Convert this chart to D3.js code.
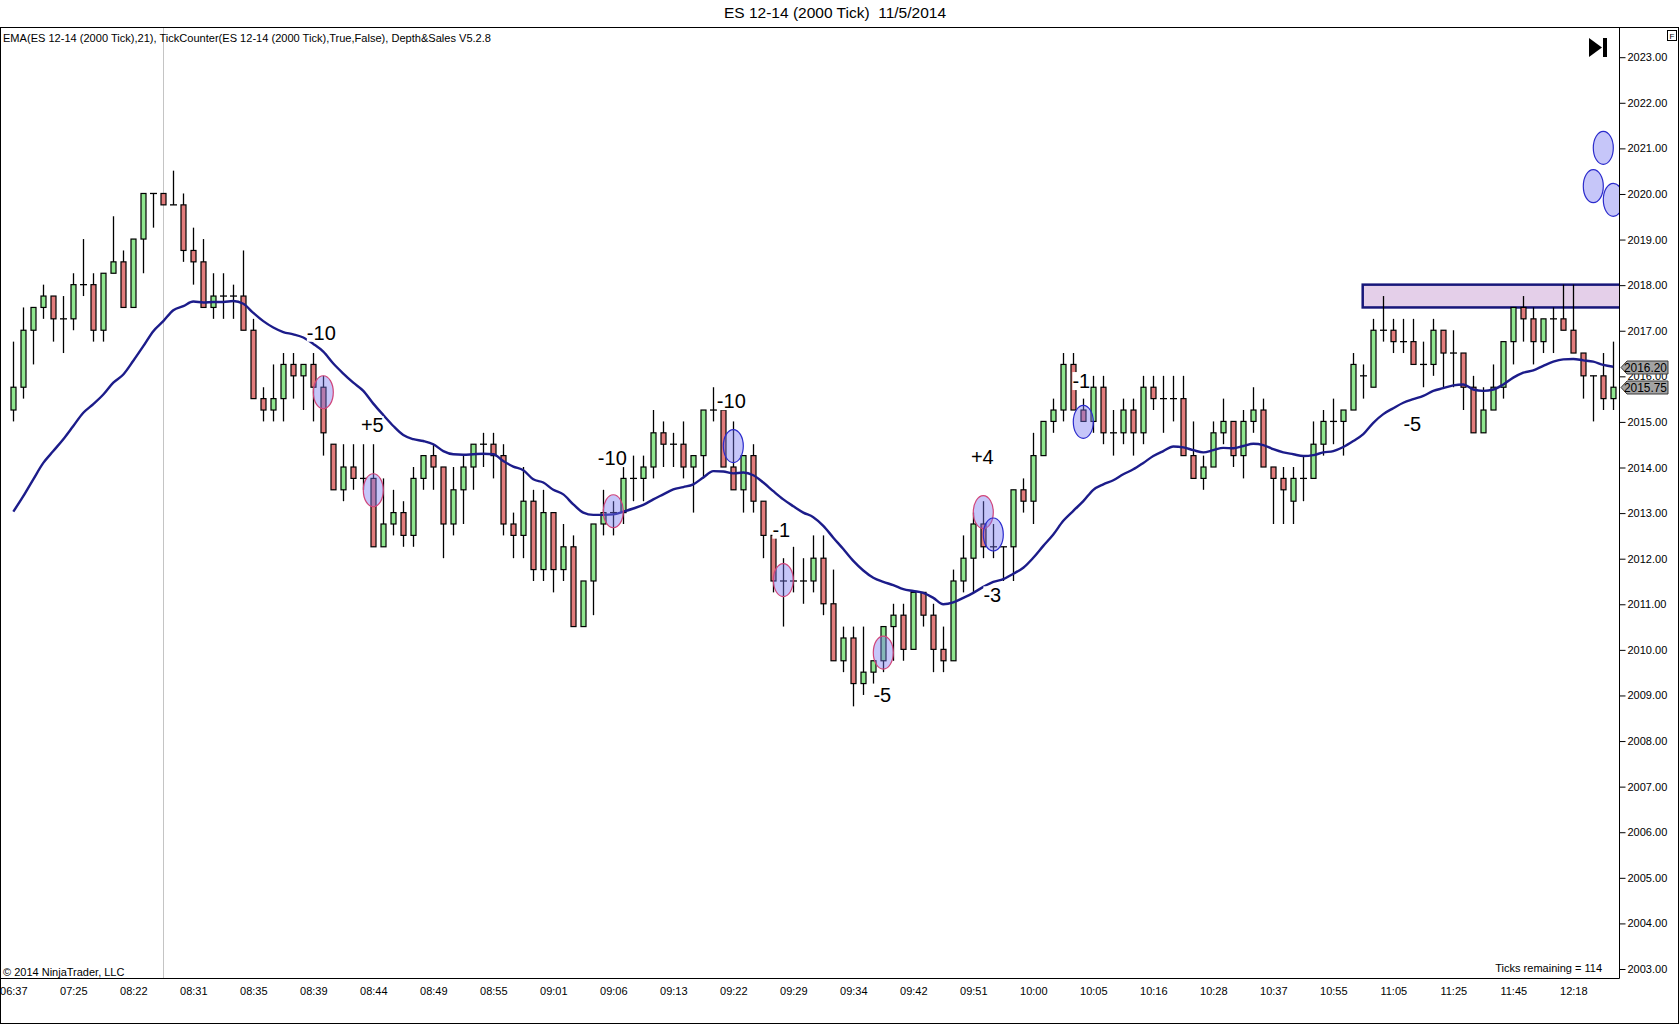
<!DOCTYPE html>
<meta charset="utf-8">

<!-- Load d3.js -->
<script src="https://d3js.org/d3.v7.min.js"></script>

<style>
  body { margin: 0; background: #fff; }
  text { font-family: "Liberation Sans", Arial, sans-serif; white-space: pre; }
</style>

<body>
  <!-- Create a div where the chart will take place -->
  <div id="chart"></div>

  <script>
    // ---- data (ES 12-14, 2000 tick bars) ----
    const opens = [
      2015.25, 2015.75, 2017, 2017.5, 2017.75, 2017.25, 2017.25, 2018, 2018, 2017,
      2018.25, 2018.5, 2017.5, 2019, 2020, 2020, 2019.75, 2019.75, 2018.75, 2018.5,
      2017.5, 2017.75, 2017.75, 2017.75, 2017, 2015.5, 2015.25, 2015.5, 2016.25, 2016,
      2016.25, 2015.75, 2014.5, 2013.5, 2014, 2013.75, 2013.75, 2012.25, 2012.75, 2013,
      2012.5, 2013.75, 2014.25, 2014, 2012.75, 2013.5, 2014, 2014.5, 2014.5, 2014.25,
      2012.75, 2012.5, 2013.25, 2011.75, 2013, 2011.75, 2012.25, 2010.5, 2011.5, 2012.75,
      2013, 2013, 2013.75, 2013.75, 2014, 2014.75, 2014.5, 2014.5, 2014, 2014.25,
      2015.25, 2015.25, 2014, 2013.5, 2014.25, 2013.25, 2012.5, 2011.5, 2011.5, 2011.5,
      2011.5, 2012, 2011, 2009.75, 2010.25, 2009.25, 2009.5, 2009.75, 2010.5, 2010.75,
      2010, 2011.25, 2010.75, 2010, 2009.75, 2011.5, 2012, 2012.75, 2012.25, 2012.25,
      2012.25, 2013.5, 2013.25, 2014.25, 2015, 2015.25, 2016.25, 2015.25, 2015, 2015.75,
      2014.75, 2014.75, 2015.25, 2014.75, 2015.75, 2015.5, 2015.5, 2015.5, 2014.25, 2013.75,
      2014, 2014.75, 2015, 2014.25, 2015, 2015.25, 2014, 2013.75, 2013.25, 2013.75,
      2013.75, 2014.5, 2015, 2015, 2015.25, 2016, 2015.75, 2017, 2017, 2016.75,
      2016.75, 2016.25, 2016.25, 2017, 2016.5, 2016.5, 2015.75, 2014.75, 2015.25, 2015.75,
      2016.75, 2017.5, 2017.25, 2016.75, 2017.25, 2017.25, 2017, 2016.5, 2016, 2016, 2015.5
    ];
    const highs = [
      2016.75, 2017.5, 2017.5, 2018, 2017.75, 2017.75, 2018.25, 2019, 2018.25, 2018.25,
      2019.5, 2018.75, 2019, 2020, 2020, 2020, 2020.5, 2020, 2019.25, 2019,
      2018.25, 2018.25, 2018, 2018.75, 2017.25, 2015.75, 2016.25, 2016.5, 2016.5, 2016.25,
      2016.5, 2016, 2014.5, 2014.5, 2014.5, 2014.5, 2014.5, 2013.75, 2013.5, 2013.25,
      2014, 2014.25, 2014.5, 2014, 2014, 2014.25, 2014.5, 2014.75, 2014.75, 2014.5,
      2013, 2014, 2013.5, 2013.5, 2013, 2012.75, 2012.5, 2011.5, 2012.75, 2013.5,
      2013.25, 2014, 2014.25, 2014.25, 2015.25, 2015, 2014.75, 2015, 2014.25, 2015.25,
      2015.75, 2015.25, 2015, 2014.25, 2014.5, 2013.25, 2012.5, 2012, 2012.25, 2012,
      2012.5, 2012.5, 2011.75, 2010.5, 2010.5, 2010.5, 2009.75, 2010.5, 2011, 2011,
      2011.25, 2011.25, 2011, 2010.5, 2011.75, 2012.5, 2013, 2013.25, 2012.75, 2012.25,
      2013.5, 2013.75, 2014.75, 2015, 2015.5, 2016.5, 2016.5, 2015.5, 2016, 2016,
      2015.25, 2015.5, 2015.5, 2016, 2016, 2016, 2016, 2016, 2015, 2014.25,
      2015, 2015.5, 2015, 2015.25, 2015.75, 2015.5, 2014, 2014, 2014, 2014.25,
      2015, 2015.25, 2015.5, 2015.25, 2016.5, 2016.25, 2017.25, 2017.75, 2017.25, 2017.25,
      2017.25, 2016.75, 2017.25, 2017, 2017, 2016.5, 2016, 2015.75, 2016.25, 2016.75,
      2017.5, 2017.75, 2017.5, 2017.25, 2017.5, 2018, 2018, 2016.5, 2016, 2016.5, 2016.75
    ];
    const lows = [
      2015, 2015.5, 2016.25, 2017.25, 2016.75, 2016.5, 2017, 2017.75, 2016.75, 2016.75,
      2018.25, 2017.5, 2017.5, 2018.25, 2019.25, 2019.75, 2019.75, 2018.5, 2018, 2017.5,
      2017.25, 2017.25, 2017.25, 2017, 2015.5, 2015, 2015, 2015, 2015.5, 2015.25,
      2015, 2014.25, 2013.5, 2013.25, 2013.5, 2013.5, 2012.25, 2012.25, 2012.5, 2012.25,
      2012.25, 2013.5, 2013.5, 2012, 2012.5, 2012.75, 2013.5, 2014, 2013.75, 2012.5,
      2012, 2012, 2011.5, 2011.5, 2011.25, 2011.5, 2010.5, 2010.5, 2010.75, 2012.5,
      2012.5, 2012.75, 2013.25, 2013.25, 2013.75, 2014, 2014, 2013.75, 2013, 2013.75,
      2015, 2014, 2013.5, 2013, 2013, 2012, 2011.25, 2010.5, 2011.25, 2011,
      2011.25, 2010.75, 2009.75, 2009.5, 2008.75, 2009, 2009.25, 2009.5, 2009.75, 2009.75,
      2010, 2010.5, 2009.5, 2009.5, 2009.75, 2011.25, 2011.25, 2012, 2012, 2011.5,
      2011.5, 2013, 2012.75, 2014.25, 2014.75, 2015, 2015.25, 2015, 2014.75, 2014.5,
      2014.25, 2014.5, 2014.25, 2014.5, 2015.25, 2014.75, 2015, 2014.25, 2013.75, 2013.5,
      2014, 2014.5, 2014, 2013.75, 2014.75, 2014, 2012.75, 2012.75, 2012.75, 2013.25,
      2013.75, 2014.25, 2014.5, 2014.25, 2015.25, 2015.5, 2015.75, 2016.75, 2016.5, 2016.5,
      2016.25, 2015.75, 2016, 2015.75, 2015.75, 2015.25, 2014.75, 2014.75, 2015.25, 2015.5,
      2016.25, 2016.75, 2016.25, 2016.5, 2016.5, 2017, 2016.5, 2015.5, 2015, 2015.25, 2015.25
    ];
    const closes = [
      2015.75, 2017, 2017.5, 2017.75, 2017.25, 2017.25, 2018, 2018, 2017, 2018.25,
      2018.5, 2017.5, 2019, 2020, 2020, 2019.75, 2019.75, 2018.75, 2018.5, 2017.5,
      2017.75, 2017.75, 2017.75, 2017, 2015.5, 2015.25, 2015.5, 2016.25, 2016, 2016.25,
      2015.75, 2014.75, 2013.5, 2014, 2013.75, 2013.75, 2012.25, 2012.75, 2013, 2012.5,
      2013.75, 2014.25, 2014, 2012.75, 2013.5, 2014, 2014.5, 2014.5, 2014.25, 2012.75,
      2012.5, 2013.25, 2011.75, 2013, 2011.75, 2012.25, 2010.5, 2011.5, 2012.75, 2013,
      2013, 2013.75, 2013.75, 2014, 2014.75, 2014.5, 2014.5, 2014, 2014.25, 2015.25,
      2015.25, 2014, 2013.5, 2014.25, 2013.25, 2012.5, 2011.5, 2011.5, 2011.5, 2011.5,
      2012, 2011, 2009.75, 2010.25, 2009.25, 2009.5, 2009.75, 2010.5, 2010.75, 2010,
      2011.25, 2010.75, 2010, 2009.75, 2011.5, 2012, 2012.75, 2012.25, 2012.25, 2012.25,
      2013.5, 2013.25, 2014.25, 2015, 2015.25, 2016.25, 2015.25, 2015, 2015.75, 2014.75,
      2014.75, 2015.25, 2014.75, 2015.75, 2015.5, 2015.5, 2015.5, 2014.25, 2013.75, 2014,
      2014.75, 2015, 2014.25, 2015, 2015.25, 2014, 2013.75, 2013.5, 2013.75, 2013.75,
      2014.5, 2015, 2015, 2015.25, 2016.25, 2016, 2017, 2017, 2016.75, 2016.75,
      2016.25, 2016.25, 2017, 2016.5, 2016.5, 2015.75, 2014.75, 2015.25, 2015.75, 2016.75,
      2017.5, 2017.25, 2016.75, 2017.25, 2017.25, 2017, 2016.5, 2016, 2016, 2015.5, 2015.75
    ];
    // EMA(21) as drawn
    const ema21 = [
      2013.02, 2013.36, 2013.73, 2014.09, 2014.35, 2014.61, 2014.90, 2015.19, 2015.38, 2015.59,
      2015.85, 2016.03, 2016.33, 2016.65, 2016.98, 2017.20, 2017.44, 2017.53, 2017.63, 2017.61,
      2017.62, 2017.62, 2017.64, 2017.58, 2017.38, 2017.20, 2017.06, 2016.96, 2016.91, 2016.84,
      2016.70, 2016.53, 2016.27, 2016.05, 2015.85, 2015.67, 2015.39, 2015.14, 2014.90, 2014.70,
      2014.61, 2014.57, 2014.50, 2014.35, 2014.28, 2014.27, 2014.28, 2014.29, 2014.28, 2014.13,
      2014.01, 2013.93, 2013.73, 2013.66, 2013.50, 2013.40, 2013.18, 2013.00, 2012.95, 2012.95,
      2012.96, 2013.02, 2013.09, 2013.17, 2013.29, 2013.40, 2013.51, 2013.56, 2013.62, 2013.77,
      2013.91, 2013.90, 2013.86, 2013.88, 2013.82, 2013.66, 2013.47, 2013.29, 2013.14, 2013.00,
      2012.90, 2012.71, 2012.45, 2012.20, 2011.94, 2011.73, 2011.57, 2011.48, 2011.41, 2011.32,
      2011.28, 2011.24, 2011.13, 2010.99, 2011.03, 2011.13, 2011.24, 2011.37, 2011.48, 2011.54,
      2011.66, 2011.79, 2012.01, 2012.27, 2012.52, 2012.82, 2013.04, 2013.25, 2013.50, 2013.62,
      2013.71, 2013.84, 2013.95, 2014.09, 2014.24, 2014.35, 2014.45, 2014.43, 2014.37, 2014.32,
      2014.37, 2014.42, 2014.41, 2014.46, 2014.51, 2014.48, 2014.39, 2014.32, 2014.28, 2014.24,
      2014.26, 2014.32, 2014.35, 2014.44, 2014.57, 2014.72, 2014.97, 2015.16, 2015.29, 2015.41,
      2015.49, 2015.56, 2015.67, 2015.73, 2015.79, 2015.81, 2015.70, 2015.67, 2015.70, 2015.81,
      2015.96, 2016.07, 2016.12, 2016.22, 2016.31, 2016.36, 2016.37, 2016.34, 2016.31, 2016.24, 2016.20
    ];

    // one time label every 6 bars
    const timeLabels = ["06:37", "07:25", "08:22", "08:31", "08:35", "08:39", "08:44", "08:49", "08:55",
      "09:01", "09:06", "09:13", "09:22", "09:29", "09:34", "09:42", "09:51", "10:00", "10:05",
      "10:16", "10:28", "10:37", "10:55", "11:05", "11:25", "11:45", "12:18"];
    const priceTicks = d3.range(2003, 2024);

    // Depth&Sales ellipses: bar, price, outline kind
    const markBars = [31, 36, 60, 72, 77, 87, 97, 98, 107, 158, 159, 160];
    const markPrices = [2015.64, 2013.49, 2013.03, 2014.46, 2011.52, 2009.93, 2013.01, 2012.52, 2014.99, 2020.16, 2021.0, 2019.86];
    const markKinds = ["pink", "pink", "pink", "blue", "pink", "pink", "pink", "blue", "blue", "blue", "blue", "blue"];

    // TickCounter notes
    const noteTexts = ["-10", "+5", "-10", "-10", "-1", "-5", "+4", "-3", "-1", "-5"];
    const noteBars = [30.8, 35.9, 59.9, 71.8, 76.8, 86.9, 96.9, 97.9, 106.8, 139.9];
    const notePrices = [2016.95, 2014.92, 2014.20, 2015.45, 2012.63, 2009.01, 2014.22, 2011.19, 2015.89, 2014.94];

    // drawn zone and price markers
    const zoneStartBar = 134.94;
    const zonePrices = [2017.5, 2018];
    const markerValues = [2016.20, 2015.75];
    const sessionBar = 15;

    // ---- layout ----
    const W = 1680, H = 1025;
    const plot = { left: 1, top: 27, right: 1619, bottom: 978 };

    const svg = d3.select("#chart")
      .append("svg")
      .attr("width", W)
      .attr("height", H)
      .style("display", "block");

    svg.append("rect").attr("width", W).attr("height", H).attr("fill", "#fff");

    const x = d3.scaleLinear().domain([0, opens.length - 1]).range([13.3, 1613.3]);
    const y = d3.scaleLinear().domain([2003, 2023]).range([968.5, 56.7]);

    svg.append("clipPath").attr("id", "plotclip")
      .append("rect")
      .attr("x", plot.left).attr("y", plot.top)
      .attr("width", plot.right - plot.left).attr("height", plot.bottom - plot.top);

    const g = svg.append("g").attr("clip-path", "url(#plotclip)");

    // session separator
    g.append("line")
      .attr("x1", Math.round(x(sessionBar)) + 0.5).attr("x2", Math.round(x(sessionBar)) + 0.5)
      .attr("y1", plot.top).attr("y2", plot.bottom)
      .attr("stroke", "#c4c4c4");

    // zone rectangle
    g.append("rect")
      .attr("x", x(zoneStartBar))
      .attr("y", y(zonePrices[1]))
      .attr("width", plot.right + 5 - x(zoneStartBar))
      .attr("height", y(zonePrices[0]) - y(zonePrices[1]))
      .attr("fill", "#e4cfe9")
      .attr("stroke", "#17177a")
      .attr("stroke-width", 2.5);

    // candles
    const bars = opens.map((o, i) => ({ i: i, o: o, h: highs[i], l: lows[i], c: closes[i] }));
    const cx = (i) => Math.round(x(i)) + 0.5;

    g.selectAll(".wick")
      .data(bars)
      .join("line")
      .attr("class", "wick")
      .attr("x1", d => cx(d.i)).attr("x2", d => cx(d.i))
      .attr("y1", d => y(d.h)).attr("y2", d => y(d.l))
      .attr("stroke", "#000")
      .attr("stroke-width", 1.3);

    g.selectAll(".body")
      .data(bars.filter(d => d.o !== d.c))
      .join("rect")
      .attr("class", "body")
      .attr("x", d => cx(d.i) - 2.5)
      .attr("width", 5)
      .attr("y", d => y(Math.max(d.o, d.c)))
      .attr("height", d => Math.abs(y(d.o) - y(d.c)))
      .attr("fill", d => d.c > d.o ? "#8fe68f" : "#e27c7c")
      .attr("stroke", "#000")
      .attr("stroke-width", 1.2);

    g.selectAll(".doji")
      .data(bars.filter(d => d.o === d.c))
      .join("line")
      .attr("class", "doji")
      .attr("x1", d => cx(d.i) - 3.5).attr("x2", d => cx(d.i) + 3.5)
      .attr("y1", d => y(d.o)).attr("y2", d => y(d.o))
      .attr("stroke", "#000")
      .attr("stroke-width", 1.3);

    // EMA line
    g.append("path")
      .datum(ema21)
      .attr("fill", "none")
      .attr("stroke", "#1c1c8a")
      .attr("stroke-width", 2.4)
      .attr("stroke-linejoin", "round")
      .attr("d", d3.line().x((d, i) => x(i)).y(d => y(d)).curve(d3.curveMonotoneX));

    // ellipses
    g.selectAll(".mark")
      .data(markBars.map((b, k) => ({ b: b, p: markPrices[k], kind: markKinds[k] })))
      .join("ellipse")
      .attr("class", "mark")
      .attr("cx", d => x(d.b))
      .attr("cy", d => y(d.p))
      .attr("rx", 10)
      .attr("ry", 16.5)
      .attr("fill", "rgba(118,118,240,0.42)")
      .attr("stroke", d => d.kind === "pink" ? "#d0457a" : "#2b2bcc")
      .attr("stroke-width", 1.2);

    // tick counter notes, white box behind the text
    noteTexts.forEach((t, k) => {
      const ng = g.append("g");
      const txt = ng.append("text")
        .attr("x", x(noteBars[k]))
        .attr("y", y(notePrices[k]))
        .attr("dy", "0.36em")
        .attr("text-anchor", "middle")
        .attr("font-size", 20)
        .attr("fill", "#000")
        .text(t);
      const bb = txt.node().getBBox();
      ng.insert("rect", "text")
        .attr("x", bb.x).attr("y", bb.y + 2)
        .attr("width", bb.width).attr("height", bb.height - 4)
        .attr("fill", "#fff");
    });

    // ---- frame ----
    svg.append("rect")
      .attr("x", 0.5).attr("y", plot.top + 0.5)
      .attr("width", W - 2).attr("height", H - plot.top - 2)
      .attr("fill", "none").attr("stroke", "#000");
    svg.append("line")
      .attr("x1", 0).attr("x2", plot.right + 0.5)
      .attr("y1", plot.bottom + 0.5).attr("y2", plot.bottom + 0.5)
      .attr("stroke", "#000");
    svg.append("line")
      .attr("x1", plot.right + 0.5).attr("x2", plot.right + 0.5)
      .attr("y1", plot.top).attr("y2", plot.bottom + 0.5)
      .attr("stroke", "#000");

    // price axis
    const yAxis = d3.axisRight(y)
      .tickValues(priceTicks)
      .tickFormat(d3.format(".2f"))
      .tickSize(6)
      .tickPadding(2);
    svg.append("g")
      .attr("transform", `translate(${plot.right + 0.5},0.5)`)
      .call(yAxis)
      .call(a => a.select(".domain").remove())
      .call(a => a.selectAll("text").attr("font-family", "'Liberation Sans', Arial, sans-serif").attr("font-size", 11).attr("fill", "#000"));

    // last value markers
    markerValues.forEach(v => {
      const yy = Math.round(y(v)) + 0.5;
      svg.append("path")
        .attr("d", `M${plot.right + 2},${yy} L${plot.right + 8},${yy - 6.5} L${plot.right + 49},${yy - 6.5} L${plot.right + 49},${yy + 6.5} L${plot.right + 8},${yy + 6.5} Z`)
        .attr("fill", "#a3a3a3")
        .attr("stroke", "#3a3a3a");
      svg.append("text")
        .attr("x", plot.right + 5)
        .attr("y", yy)
        .attr("dy", "0.36em")
        .attr("font-size", 12)
        .attr("textLength", 43)
        .attr("lengthAdjust", "spacingAndGlyphs")
        .attr("fill", "#000")
        .text(v.toFixed(2));
    });

    // time axis
    const xAxis = d3.axisBottom(x)
      .tickValues(timeLabels.map((d, k) => k * 6))
      .tickFormat(d => timeLabels[d / 6])
      .tickSize(0)
      .tickPadding(9);
    svg.append("g")
      .attr("transform", `translate(0,${plot.bottom})`)
      .call(xAxis)
      .call(a => a.select(".domain").remove())
      .call(a => a.selectAll("text").attr("font-family", "'Liberation Sans', Arial, sans-serif").attr("font-size", 11).attr("fill", "#000"));

    // ---- texts ----
    svg.append("text")
      .attr("x", 835).attr("y", 18)
      .attr("text-anchor", "middle")
      .attr("font-size", 15.5)
      .attr("fill", "#000")
      .text("ES 12-14 (2000 Tick)  11/5/2014");

    svg.append("text")
      .attr("x", 3).attr("y", 42)
      .attr("font-size", 10.5)
      .attr("textLength", 488)
      .attr("lengthAdjust", "spacingAndGlyphs")
      .attr("fill", "#000")
      .text("EMA(ES 12-14 (2000 Tick),21), TickCounter(ES 12-14 (2000 Tick),True,False), Depth&Sales V5.2.8");

    svg.append("text")
      .attr("x", 3).attr("y", 976)
      .attr("font-size", 11)
      .attr("fill", "#000")
      .text("© 2014 NinjaTrader, LLC");

    svg.append("text")
      .attr("x", 1602).attr("y", 972)
      .attr("text-anchor", "end")
      .attr("font-size", 11)
      .attr("fill", "#000")
      .text("Ticks remaining = 114");

    // go-to-end icon
    svg.append("path").attr("d", "M1589,38 L1602,47.5 L1589,57 Z").attr("fill", "#000");
    svg.append("rect").attr("x", 1603).attr("y", 38).attr("width", 4).attr("height", 19).attr("fill", "#000");

    // "F" box
    svg.append("rect")
      .attr("x", 1667.5).attr("y", 30.5).attr("width", 9).attr("height", 10)
      .attr("fill", "#fff").attr("stroke", "#000");
    svg.append("text")
      .attr("x", 1672).attr("y", 39)
      .attr("text-anchor", "middle")
      .attr("font-size", 8)
      .attr("fill", "#000")
      .text("F");
  </script>
</body>
